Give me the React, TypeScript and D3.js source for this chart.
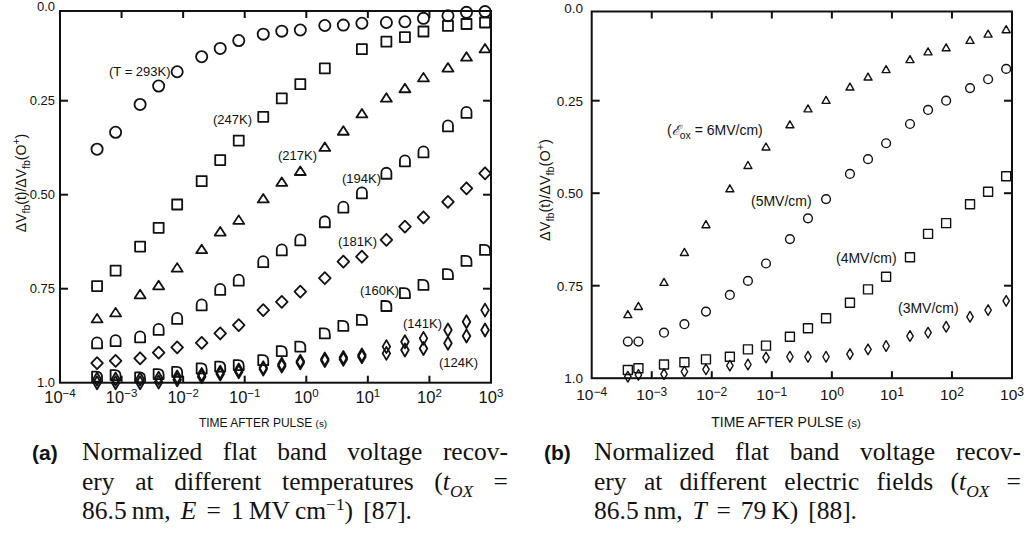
import React, { useEffect, useRef } from "react";
import * as d3 from "d3";

// ---------------- DATA ----------------
// Panel (a): temperatures
const timesA = [4e-4, 8e-4, 2e-3, 4e-3, 8e-3, 0.02, 0.04, 0.08, 0.2, 0.4, 0.8, 2, 4, 8, 20, 40, 80, 200, 400, 800];
const valuesA293 = [0.379, 0.334, 0.26, 0.211, 0.173, 0.133, 0.111, 0.09, 0.073, 0.065, 0.062, 0.05, 0.049, 0.044, 0.042, 0.04, 0.031, 0.024, 0.015, 0.013];
const valuesA247 = [0.743, 0.702, 0.638, 0.588, 0.526, 0.464, 0.408, 0.356, 0.293, 0.244, 0.206, 0.164, null, 0.113, 0.093, 0.081, 0.066, 0.051, 0.046, 0.042];
const valuesA217 = [0.831, 0.815, 0.767, 0.743, 0.696, 0.647, 0.6, 0.569, 0.512, 0.468, 0.439, 0.375, 0.332, 0.286, 0.244, 0.219, 0.19, 0.164, 0.135, 0.113];
const valuesA194 = [0.894, 0.888, 0.878, 0.858, 0.829, 0.793, 0.752, 0.727, 0.678, 0.647, 0.62, 0.572, 0.533, 0.495, 0.443, 0.41, 0.386, 0.317, 0.281, null];
const valuesA181 = [0.948, 0.942, 0.935, 0.92, 0.906, 0.894, 0.869, 0.847, 0.807, 0.785, 0.758, 0.722, 0.678, 0.665, 0.62, 0.585, 0.56, 0.519, 0.483, 0.443];
const valuesA160 = [0.984, 0.98, 0.986, 0.977, 0.971, 0.962, 0.957, 0.953, 0.94, 0.916, 0.904, 0.869, 0.849, 0.833, 0.796, 0.762, 0.74, 0.711, 0.676, 0.647];
const valuesA141 = [0.99, 0.99, 0.99, 0.988, 0.985, 0.978, 0.972, 0.966, 0.96, 0.951, 0.943, 0.937, 0.933, 0.926, 0.904, 0.891, 0.882, 0.86, 0.838, 0.807];
const valuesA124 = [1.0, 1.0, 1.0, 0.998, 0.992, 0.984, 0.977, 0.971, 0.964, 0.956, 0.947, 0.941, 0.938, 0.931, 0.922, 0.913, 0.909, 0.895, 0.876, 0.86];
const seriesLabelsA = ["(T = 293K)", "(247K)", "(217K)", "(194K)", "(181K)", "(160K)", "(141K)", "(124K)"];

// Panel (b): electric fields
const timesB = [4e-4, 6e-4, 1.6e-3, 3.5e-3, 8e-3, 0.02, 0.04, 0.08, 0.2, 0.4, 0.8, 2, 4, 8, 20, 40, 80, 200, 400, 800];
const valuesB6 = [0.829, 0.807, 0.742, 0.661, 0.586, 0.489, 0.426, 0.376, 0.316, 0.273, 0.25, 0.214, 0.187, 0.167, 0.14, 0.119, 0.108, 0.088, 0.071, 0.059];
const valuesB5 = [0.901, 0.901, 0.877, 0.854, 0.82, 0.775, 0.737, 0.69, 0.624, 0.568, 0.516, 0.448, 0.408, 0.365, 0.313, 0.275, 0.25, 0.216, 0.192, 0.164];
const valuesB4 = [0.978, 0.973, 0.963, 0.957, 0.949, 0.942, 0.922, 0.912, 0.888, 0.865, 0.838, 0.796, 0.76, 0.726, 0.673, 0.61, 0.581, 0.53, 0.496, 0.454];
const valuesB3 = [0.996, 0.991, 0.989, 0.982, 0.976, 0.966, 0.963, 0.944, 0.942, 0.942, 0.942, 0.935, 0.922, 0.913, 0.886, 0.877, 0.861, 0.834, 0.816, 0.791];
const seriesLabelsB = ["6MV/cm)", "(5MV/cm)", "(4MV/cm)", "(3MV/cm)"];

// Axes
const tickExps = [-4, -3, -2, -1, 0, 1, 2, 3];
const yTickValues = [0, 0.25, 0.5, 0.75, 1];
const yTickLabels = ["0.0", "0.25", "0.50", "0.75", "1.0"];
const xTitle = "TIME AFTER PULSE ";
const xTitleUnit = "(s)";

// ---------------- STYLE / LAYOUT ----------------
const SANS = "'Liberation Sans', Arial, Helvetica, 'DejaVu Sans', sans-serif";
const SERIF = "'Liberation Serif', 'Times New Roman', 'DejaVu Serif', serif";
const INK = "#111";

type Seg = { t: string; it?: boolean; sub?: boolean; sup?: boolean };

function Segs({ segs, fs, subDy = 0.3, supDy = 0.42, small = 0.72 }: { segs: Seg[]; fs: number; subDy?: number; supDy?: number; small?: number }) {
  let shift = 0;
  return (
    <>
      {segs.map((s, i) => {
        const target = s.sub ? fs * subDy : s.sup ? -fs * supDy : 0;
        const dy = target - shift;
        shift = target;
        return (
          <tspan key={i} dy={dy} fontSize={s.sub || s.sup ? fs * small : undefined} fontStyle={s.it ? "italic" : undefined}>
            {s.t}
          </tspan>
        );
      })}
    </>
  );
}

type MarkerKind = "circle" | "square" | "triangle" | "diamond" | "arch" | "archD";
function markerPath(kind: MarkerKind, a: number, b: number): string {
  switch (kind) {
    case "circle":
      return `M${a},0A${a},${a} 0 1,1 ${-a},0A${a},${a} 0 1,1 ${a},0Z`;
    case "square":
      return `M${-a},${-a}H${a}V${a}H${-a}Z`;
    case "triangle":
      return `M0,${-b * 0.62}L${a},${b * 0.38}L${-a},${b * 0.38}Z`;
    case "diamond":
      return `M0,${-b}L${a},0L0,${b}L${-a},0Z`;
    case "arch":
      return `M${-a},${b}V${-b + a}A${a},${a} 0 0 1 ${a},${-b + a}V${b}Z`;
    case "archD":
      return `M${-a},${b}V${-b}H${-a * 0.1}Q${a},${-b} ${a},${b * 0.2}V${b}Z`;
  }
}

const ySegs: Seg[] = [
  { t: "ΔV" }, { t: "fb", sub: true }, { t: "(t)/ΔV" }, { t: "fb", sub: true }, { t: "(O" }, { t: "+", sup: true }, { t: ")" },
];

interface SeriesDef { values: (number | null)[]; kind: MarkerKind; a: number; b: number; sw: number }
interface LabelDef { text: string; x: number; y: number; field?: boolean }
interface PanelDef {
  times: number[];
  series: SeriesDef[];
  labels: LabelDef[];
  x0: number; x1: number; y0: number; y1: number; frameTop: number;
  yLabelX: number; yLabelFs: number;
  xLabelFs: number; xLabelBase: number; xSupFs: number; xSupDy: number;
  titleX: number; titleBase: number; titleFs: number;
  yTitleX: number; yTitleY: number; yTitleFs: number;
  labelFs: number;
}

const panelA: PanelDef = {
  times: timesA,
  series: [
    { values: valuesA293, kind: "circle", a: 5.6, b: 5.6, sw: 1.8 },
    { values: valuesA247, kind: "square", a: 5, b: 5, sw: 1.8 },
    { values: valuesA217, kind: "triangle", a: 5.5, b: 8.5, sw: 1.8 },
    { values: valuesA194, kind: "arch", a: 5, b: 5.5, sw: 1.8 },
    { values: valuesA181, kind: "diamond", a: 5.8, b: 6, sw: 1.8 },
    { values: valuesA160, kind: "archD", a: 5, b: 5, sw: 1.8 },
    { values: valuesA141, kind: "diamond", a: 3.8, b: 6.5, sw: 1.8 },
    { values: valuesA124, kind: "diamond", a: 3.8, b: 6.5, sw: 1.8 },
  ],
  labels: [
    { text: seriesLabelsA[0], x: 109, y: 71.7 },
    { text: seriesLabelsA[1], x: 213, y: 119.3 },
    { text: seriesLabelsA[2], x: 278, y: 155 },
    { text: seriesLabelsA[3], x: 342, y: 178 },
    { text: seriesLabelsA[4], x: 338, y: 241.7 },
    { text: seriesLabelsA[5], x: 360, y: 290.7 },
    { text: seriesLabelsA[6], x: 403, y: 323 },
    { text: seriesLabelsA[7], x: 439, y: 362.7 },
  ],
  x0: 60, x1: 491, y0: 6.7, y1: 382.7, frameTop: 11,
  yLabelX: 55, yLabelFs: 13,
  xLabelFs: 16.5, xLabelBase: 403, xSupFs: 11.5, xSupDy: -6.5,
  titleX: 263, titleBase: 427, titleFs: 12,
  yTitleX: 26, yTitleY: 183, yTitleFs: 14,
  labelFs: 13,
};

const panelB: PanelDef = {
  times: timesB,
  series: [
    { values: valuesB6, kind: "triangle", a: 4, b: 7, sw: 1.4 },
    { values: valuesB5, kind: "circle", a: 4.4, b: 4.4, sw: 1.4 },
    { values: valuesB4, kind: "square", a: 4.5, b: 4.5, sw: 1.4 },
    { values: valuesB3, kind: "diamond", a: 3.2, b: 5.3, sw: 1.4 },
  ],
  labels: [
    { text: seriesLabelsB[0], x: 667, y: 130, field: true },
    { text: seriesLabelsB[1], x: 751, y: 201 },
    { text: seriesLabelsB[2], x: 836, y: 258 },
    { text: seriesLabelsB[3], x: 898, y: 308 },
  ],
  x0: 591.7, x1: 1012, y0: 8.2, y1: 378.2, frameTop: 11.5,
  yLabelX: 583, yLabelFs: 13.5,
  xLabelFs: 15.5, xLabelBase: 400, xSupFs: 12, xSupDy: -4,
  titleX: 786, titleBase: 427, titleFs: 14,
  yTitleX: 550, yTitleY: 190, yTitleFs: 14.5,
  labelFs: 14,
};

function Panel({ p }: { p: PanelDef }) {
  const x = d3.scaleLog().domain([1e-4, 1e3]).range([p.x0, p.x1]);
  const y = d3.scaleLinear().domain([0, 1]).range([p.y0, p.y1]);
  const bottom = y(1);
  const top = p.frameTop;
  const innerExps = tickExps.slice(1, -1);
  const innerY = yTickValues.slice(1, -1);
  return (
    <g>
      {/* frame */}
      <rect x={p.x0} y={top} width={p.x1 - p.x0} height={bottom - top} fill="none" stroke={INK} strokeWidth={2} />
      {innerExps.map((e) => {
        const xv = x(Math.pow(10, e));
        return (
          <g key={e}>
            <line x1={xv} x2={xv} y1={bottom} y2={bottom - 7} stroke={INK} strokeWidth={2} />
            <line x1={xv} x2={xv} y1={top} y2={top + 7} stroke={INK} strokeWidth={2} />
          </g>
        );
      })}
      {innerY.map((v) => (
        <g key={v}>
          <line x1={p.x0} x2={p.x0 + 8} y1={y(v)} y2={y(v)} stroke={INK} strokeWidth={2} />
          <line x1={p.x1} x2={p.x1 - 8} y1={y(v)} y2={y(v)} stroke={INK} strokeWidth={2} />
        </g>
      ))}
      {/* y tick labels */}
      {yTickValues.map((v, i) => (
        <text key={v} x={p.yLabelX} y={y(v) + p.yLabelFs * 0.36} textAnchor="end" fontSize={p.yLabelFs} fontFamily={SANS} fill={INK}>
          {yTickLabels[i]}
        </text>
      ))}
      {/* x tick labels */}
      {tickExps.map((e) => (
        <text key={e} x={x(Math.pow(10, e))} y={p.xLabelBase} textAnchor="middle" fontSize={p.xLabelFs} fontFamily={SANS} fill={INK}>
          <tspan>10</tspan>
          <tspan dy={p.xSupDy} fontSize={p.xSupFs}>{e < 0 ? "−" + Math.abs(e) : String(e)}</tspan>
        </text>
      ))}
      {/* x title */}
      <text x={p.titleX} y={p.titleBase} textAnchor="middle" fontSize={p.titleFs} fontFamily={SANS} fill={INK}>
        {xTitle}
        <tspan fontSize={p.titleFs * 0.82}>{xTitleUnit}</tspan>
      </text>
      {/* y title */}
      <text transform={`translate(${p.yTitleX},${p.yTitleY}) rotate(-90)`} textAnchor="middle" fontSize={p.yTitleFs}
        fontFamily={SANS} fill={INK}>
        <Segs segs={ySegs} fs={p.yTitleFs} subDy={0.3} supDy={0.4} small={0.75} />
      </text>
      {/* markers */}
      {p.series.map((s, si) => (
        <g key={si} fill="none" stroke={INK} strokeWidth={s.sw} strokeLinejoin="round">
          {s.values.map((v, i) =>
            v == null ? null : (
              <path key={i} transform={`translate(${x(p.times[i])},${y(v)})`} d={markerPath(s.kind, s.a, s.b)} />
            )
          )}
        </g>
      ))}
      {/* series labels */}
      {p.labels.map((l, i) => (
        <text key={i} x={l.x} y={l.y + p.labelFs * 0.36} fontSize={p.labelFs} fontFamily={SANS} fill={INK}>
          {l.field ? (
            <>
              <tspan>(</tspan>
              <tspan fontFamily="'DejaVu Serif', serif" fontStyle="italic">ℰ</tspan>
              <tspan dy={p.labelFs * 0.3} fontSize={p.labelFs * 0.75}>ox</tspan>
              <tspan dy={-p.labelFs * 0.3}>{" = " + l.text}</tspan>
            </>
          ) : (
            l.text
          )}
        </text>
      ))}
    </g>
  );
}

// ---------------- CAPTIONS ----------------
type Word = Seg[];
interface CaptionDef {
  label: string; labelX: number; x0: number; x1: number; x1Last: number;
  lines: Word[][];
}
const w = (s: string): Word => [{ t: s }];
const toxWord: Word = [{ t: "(" }, { t: "t", it: true }, { t: "OX", it: true, sub: true }];

const captionA: CaptionDef = {
  label: "(a)", labelX: 32, x0: 82, x1: 508, x1Last: 412,
  lines: [
    ["Normalized", "flat", "band", "voltage", "recov-"].map(w),
    [w("ery"), w("at"), w("different"), w("temperatures"), toxWord, w("=")],
    [w("86.5\u2009nm,"), [{ t: "E", it: true }], w("="), [{ t: "1\u2009MV\u2009cm" }, { t: "−1", sup: true }, { t: ")" }], w("[87].")],
  ],
};
const captionB: CaptionDef = {
  label: "(b)", labelX: 544, x0: 594, x1: 1021, x1Last: 857,
  lines: [
    ["Normalized", "flat", "band", "voltage", "recov-"].map(w),
    [w("ery"), w("at"), w("different"), w("electric"), w("fields"), toxWord, w("=")],
    [w("86.5\u2009nm,"), [{ t: "T", it: true }], w("="), w("79\u2009K)"), w("[88].")],
  ],
};
const CAP_FS = 25.5;
const CAP_BASES = [459.5, 490, 519];

function appendSegs(t: any, segs: Seg[], fs: number) {
  let shift = 0;
  segs.forEach((s) => {
    const target = s.sub ? fs * 0.26 : s.sup ? -fs * 0.36 : 0;
    const ts = t.append("tspan").attr("dy", target - shift).text(s.t);
    shift = target;
    if (s.sub || s.sup) ts.attr("font-size", fs * 0.68);
    if (s.it) ts.attr("font-style", "italic");
  });
}

export default function App() {
  const ref = useRef<SVGSVGElement>(null);
  useEffect(() => {
    const svg = d3.select(ref.current);
    svg.selectAll("g.caption").remove();
    [captionA, captionB].forEach((c) => {
      const g = svg.append("g").attr("class", "caption").attr("fill", INK);
      g.append("text").attr("x", c.labelX).attr("y", CAP_BASES[0]).attr("font-family", SANS)
        .attr("font-weight", "bold").attr("font-size", 21).text(c.label);
      c.lines.forEach((words, li) => {
        const nodes = words.map((wd) => {
          const t = g.append("text").attr("y", CAP_BASES[li]).attr("font-family", SERIF).attr("font-size", CAP_FS);
          appendSegs(t, wd, CAP_FS);
          return t;
        });
        const widths = nodes.map((n) => (n.node() as SVGTextElement).getComputedTextLength());
        const total = d3.sum(widths);
        const end = li === 2 ? c.x1Last : c.x1;
        const gap = (end - c.x0 - total) / (nodes.length - 1);
        let xx = c.x0;
        nodes.forEach((n, j) => {
          n.attr("x", xx);
          xx += widths[j] + gap;
        });
      });
    });
  }, []);

  return (
    <svg ref={ref} width={1024} height={537} viewBox="0 0 1024 537"
      style={{ position: "absolute", left: 0, top: 0, background: "#fff" }}>
      <rect x={0} y={0} width={1024} height={537} fill="#fff" />
      <Panel p={panelA} />
      <Panel p={panelB} />
    </svg>
  );
}
